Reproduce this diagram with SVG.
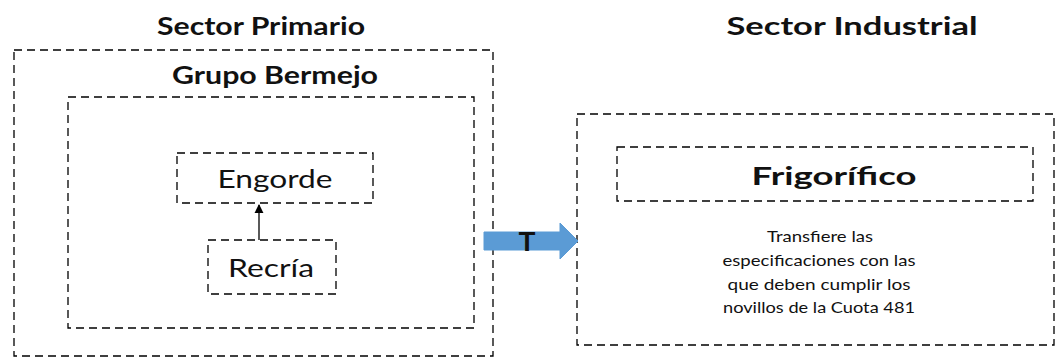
<svg xmlns="http://www.w3.org/2000/svg" width="1059" height="358" viewBox="0 0 1059 358">
<style>
.box{fill:none;stroke:#000;stroke-width:1.3;stroke-dasharray:8 5}
.t{font-family:Lato,"Open Sans","Liberation Sans",sans-serif;fill:#111;text-anchor:middle}
.h{font-weight:bold;font-size:24px}
.n{font-size:25px}
.s{font-size:16px}
</style>
<defs>
<marker id="ah" viewBox="0 0 10 10" refX="9" refY="5" markerWidth="7" markerHeight="7" orient="auto">
<path d="M0,0 L10,5 L0,10 z" fill="#000"/>
</marker>
</defs>
<rect width="1059" height="358" fill="#fff"/>
<g id="sector-primario">
<rect class="box" x="14" y="50" width="479" height="306"/>
<text class="t h" x="261" y="35" textLength="208" lengthAdjust="spacingAndGlyphs">Sector Primario</text>
</g>
<g id="grupo-bermejo">
<rect class="box" x="68" y="97" width="406" height="231"/>
<text class="t h" x="275" y="84" textLength="206" lengthAdjust="spacingAndGlyphs">Grupo Bermejo</text>
</g>
<g id="engorde">
<rect class="box" x="177" y="153" width="196" height="50"/>
<text class="t n" x="275" y="188" textLength="115" lengthAdjust="spacingAndGlyphs">Engorde</text>
</g>
<g id="recria">
<rect class="box" x="208" y="240" width="128" height="54"/>
<text class="t n" x="271" y="277" textLength="86" lengthAdjust="spacingAndGlyphs">Recría</text>
</g>
<g id="sector-industrial">
<rect class="box" x="577" y="114" width="477" height="231"/>
<text class="t h" x="852" y="35" textLength="251" lengthAdjust="spacingAndGlyphs">Sector Industrial</text>
<text class="t s" x="820" y="242" textLength="106" lengthAdjust="spacingAndGlyphs">Transfiere las</text>
<text class="t s" x="819" y="266" textLength="193" lengthAdjust="spacingAndGlyphs">especificaciones con las</text>
<text class="t s" x="819" y="290" textLength="183" lengthAdjust="spacingAndGlyphs">que deben cumplir los</text>
<text class="t s" x="819" y="313" textLength="192" lengthAdjust="spacingAndGlyphs">novillos de la Cuota 481</text>
</g>
<g id="frigorifico">
<rect class="box" x="617" y="147" width="416" height="54"/>
<text class="t h" x="834" y="185" font-size="25" textLength="165" lengthAdjust="spacingAndGlyphs">Frigorífico</text>
</g>
<g id="connectors">
<line x1="259" y1="240" x2="259" y2="205" stroke="#000" stroke-width="1.3" marker-end="url(#ah)"/>
<path d="M484,232 L560,232 L560,223 L578,241 L560,259 L560,250 L484,250 z" fill="#5B9BD5" stroke="#5B9BD5" stroke-width="1"/>
<text class="t" x="527" y="251" font-size="26" font-weight="bold" textLength="17" lengthAdjust="spacingAndGlyphs">T</text>
</g>
</svg>
